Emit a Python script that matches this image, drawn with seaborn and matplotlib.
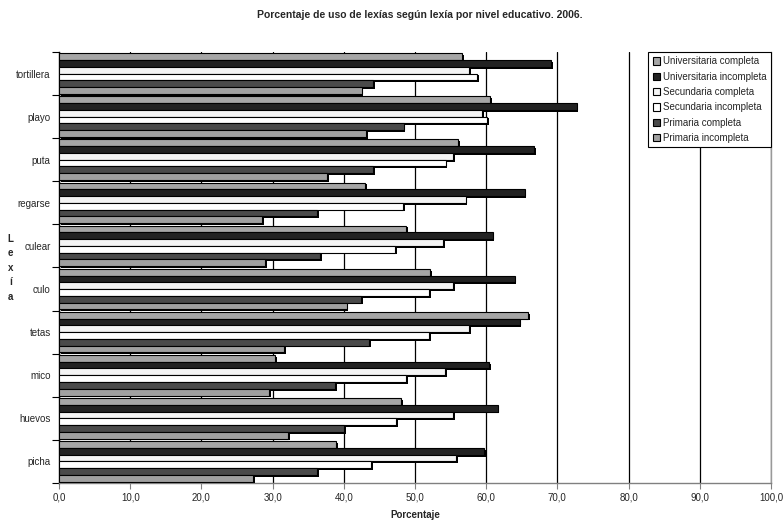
import matplotlib
matplotlib.use("Agg")
import matplotlib.pyplot as plt
import matplotlib.patheffects as pe
from matplotlib.patches import Patch
import seaborn as sns
import pandas as pd

lexias = ["tortillera", "playo", "puta", "regarse", "culear",
          "culo", "tetas", "mico", "huevos", "picha"]
niveles = ["Universitaria completa", "Universitaria incompleta",
           "Secundaria completa", "Secundaria incompleta",
           "Primaria completa", "Primaria incompleta"]

univ_completa = [56.6, 60.6, 56.1, 43.0, 48.7, 52.1, 65.9, 30.4, 48.1, 38.9]
univ_incompleta = [69.1, 72.7, 66.7, 65.4, 60.9, 64.0, 64.7, 60.4, 61.6, 59.7]
sec_completa = [57.6, 59.4, 55.3, 57.1, 53.9, 55.3, 57.6, 54.2, 55.3, 55.8]
sec_incompleta = [58.7, 60.1, 54.3, 48.3, 47.2, 52.0, 52.0, 48.7, 47.4, 43.8]
prim_completa = [44.1, 48.4, 44.1, 36.2, 36.7, 42.4, 43.5, 38.8, 40.0, 36.2]
prim_incompleta = [42.5, 43.1, 37.7, 28.5, 28.9, 40.4, 31.6, 29.5, 32.2, 27.3]

series = [univ_completa, univ_incompleta, sec_completa,
          sec_incompleta, prim_completa, prim_incompleta]
colores = ["#a6a6a6", "#222222", "#f4f4f4", "#ffffff", "#4a4a4a", "#a0a0a0"]

rows = []
for nivel, vals in zip(niveles, series):
    for lex, v in zip(lexias, vals):
        rows.append({"Lexía": lex, "Nivel": nivel, "Porcentaje": v})
df = pd.DataFrame(rows)

sns.set_theme(style="white")
plt.rcParams["font.family"] = ["Liberation Sans", "DejaVu Sans"]

fig = plt.figure(figsize=(7.84, 5.25), dpi=100)
ax = fig.add_axes([0.0753, 0.08, 0.908, 0.821])

sns.barplot(data=df, x="Porcentaje", y="Lexía", hue="Nivel",
            order=lexias, hue_order=niveles, palette=colores,
            orient="h", width=0.94, errorbar=None, legend=False,
            edgecolor="black", linewidth=0.8, saturation=1, ax=ax)

shadow = [pe.SimplePatchShadow(offset=(1.3, -1.3), shadow_rgbFace="black",
                               alpha=1.0), pe.Normal()]
for bar in ax.patches:
    bar.set_path_effects(shadow)
    bar.set_zorder(3)

ax.set_xlim(0, 100)
ax.set_ylim(9.5, -0.5)
ax.set_xticks(range(0, 101, 10))
ax.set_xticklabels([f"{t},0" for t in range(0, 101, 10)], fontsize=7)
ax.set_yticks(range(len(lexias)))
ax.set_yticklabels(lexias, fontsize=7)
ax.set_yticks([i - 0.5 for i in range(len(lexias) + 1)], minor=True)
ax.tick_params(axis="y", which="major", length=0, pad=6)
ax.tick_params(axis="y", which="minor", left=True, length=5, width=0.8,
               color="black", direction="out")
ax.tick_params(axis="x", which="major", bottom=True, length=4, width=0.8,
               color="#808080", direction="out", pad=3)

ax.set_axisbelow(True)
ax.xaxis.grid(True, color="black", linewidth=0.9)
ax.yaxis.grid(False)

ax.spines["top"].set_visible(False)
ax.spines["left"].set_color("black")
ax.spines["left"].set_linewidth(1.0)
ax.spines["bottom"].set_color("#808080")
ax.spines["bottom"].set_linewidth(1.0)
ax.spines["right"].set_color("#999999")
ax.spines["right"].set_linewidth(1.0)

ax.set_xlabel("Porcentaje", fontsize=7, fontweight="bold", labelpad=5)
ax.set_ylabel("")
fig.text(0.0135, 0.49, "L\ne\nx\ní\na", fontsize=7, fontweight="bold",
         ha="center", va="center", linespacing=1.55)
fig.text(0.535, 0.972, "Porcentaje de uso de lexías según lexía por nivel educativo. 2006.",
         fontsize=7.5, fontweight="bold", ha="center", va="center")

handles = [Patch(facecolor=c, edgecolor="black", linewidth=0.8) for c in colores]
leg = ax.legend(handles, niveles, loc="upper right", bbox_to_anchor=(1.0, 1.0),
                fontsize=7, frameon=True, fancybox=False, framealpha=1,
                edgecolor="black", handlelength=0.75, handleheight=0.75,
                handletextpad=0.3, labelspacing=0.55, borderpad=0.45,
                borderaxespad=0.0)
leg.get_frame().set_linewidth(0.8)

fig.savefig("out.png", dpi=100)
